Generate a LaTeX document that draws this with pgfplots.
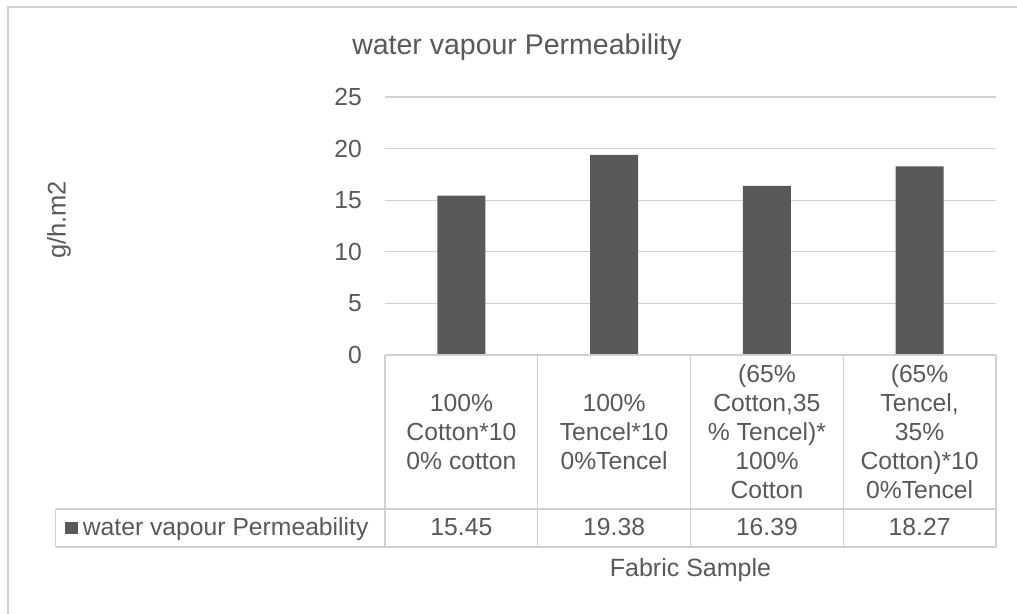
\documentclass[border=0pt]{standalone}
\usepackage{pgfplots}
\pgfplotsset{compat=1.18}
\usepackage{fontspec}
\setmainfont{Liberation Sans}
\definecolor{txt}{HTML}{595959}
\definecolor{barc}{HTML}{595959}
\definecolor{gridc}{HTML}{D0D0D0}
\begin{document}
\begin{tikzpicture}[x=1bp,y=1bp]
\useasboundingbox (0,0) rectangle (1017,614);
\fill[white] (0,0) rectangle (1017,614);
\draw[gridc, line width=1.5bp] (8,0) -- (8,607) -- (1017,607);
\begin{axis}[at={(385bp,259bp)}, anchor=south west, scale only axis,
  width=611bp, height=258bp, xmin=-0.5, xmax=3.5, ymin=0, ymax=25,
  ytick={0,5,10,15,20,25}, xtick=\empty, axis line style={draw=none},
  ymajorgrids, grid style={gridc, line width=1.2bp}, major tick length=0pt,
  yticklabel style={font=\fontsize{24.7bp}{29bp}\selectfont, text=txt, anchor=east, inner sep=0pt, xshift=-23bp},
  /pgf/number format/assume math mode=true,
  ybar, bar width=48bp, clip=false]
\addplot[fill=barc, draw=none] coordinates {(0,15.45) (1,19.38) (2,16.39) (3,18.27)};
\end{axis}
\tikzset{cell/.style={text=txt, font=\fontsize{24.7bp}{29bp}\selectfont, align=center, inner sep=0pt}}
\draw[gridc, line width=1.2bp] (385,259) -- (996,259);
\foreach \x in {385,537.75,690.5,843.25,996} \draw[gridc, line width=1.2bp] (\x,259) -- (\x,67);
\draw[gridc, line width=1.2bp] (55.7,105) -- (996,105);
\draw[gridc, line width=1.2bp] (55.7,67) -- (996,67);
\draw[gridc, line width=1.2bp] (55.7,105) -- (55.7,67);
% category labels
\node[cell] at (461.4,182) {100\%\\Cotton*10\\0\% cotton};
\node[cell] at (614.1,182) {100\%\\Tencel*10\\0\%Tencel};
\node[cell] at (766.9,182) {(65\%\\Cotton,35\\\% Tencel)*\\100\%\\Cotton};
\node[cell] at (919.6,182) {(65\%\\Tencel,\\35\%\\Cotton)*10\\0\%Tencel};
% values
\node[cell, anchor=base] at (461.4,78) {15.45};
\node[cell, anchor=base] at (614.1,78) {19.38};
\node[cell, anchor=base] at (766.9,78) {16.39};
\node[cell, anchor=base] at (919.6,78) {18.27};
% legend key
\fill[barc] (65,80) rectangle (77.7,92.3);
\node[cell, anchor=base west] at (82.7,78) {water vapour Permeability};
% titles
\node[text=txt, font=\fontsize{28.5bp}{34bp}\selectfont, anchor=base, inner sep=0pt] at (517,559) {water vapour Permeability};
\node[text=txt, font=\fontsize{25bp}{30bp}\selectfont, anchor=base, inner sep=0pt] at (690.5,37.3) {Fabric Sample};
\node[text=txt, font=\fontsize{25.5bp}{30bp}\selectfont, rotate=90, inner sep=0pt] at (59,394) {g/h.m2};
\end{tikzpicture}
\end{document}
